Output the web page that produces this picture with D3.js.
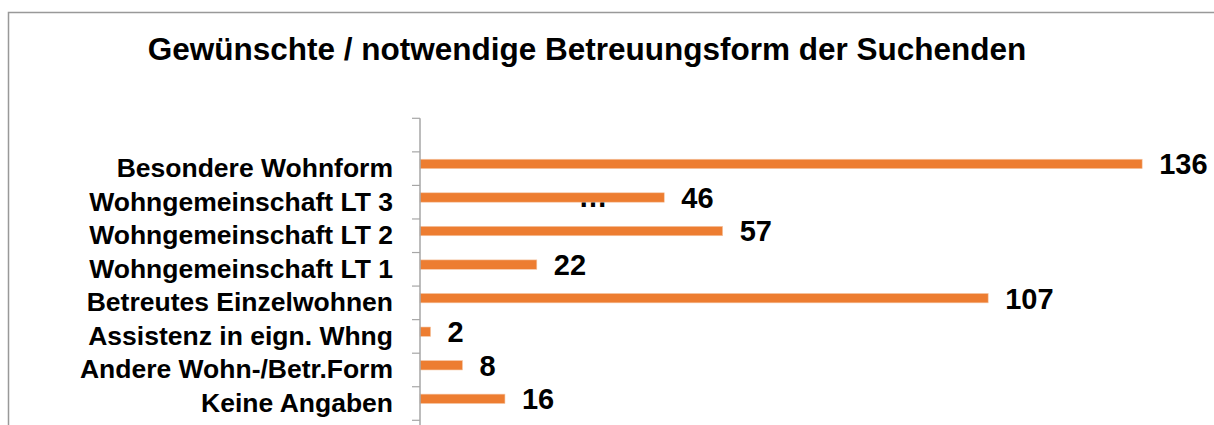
<!DOCTYPE html>
<html>
<head>
<meta charset="utf-8">
<script src="https://cdn.jsdelivr.net/npm/d3@7"></script>
<style>
  body { margin: 0; background: #fff; }
  svg { display: block; font-family: "Liberation Sans", Arial, sans-serif; }
</style>
</head>
<body>
<div id="chart"></div>
<script>
// Chart data
const title = 'Gewünschte / notwendige Betreuungsform der Suchenden';
const categories = [
  'Besondere Wohnform',
  'Wohngemeinschaft LT 3',
  'Wohngemeinschaft LT 2',
  'Wohngemeinschaft LT 1',
  'Betreutes Einzelwohnen',
  'Assistenz in eign. Whng',
  'Andere Wohn-/Betr.Form',
  'Keine Angaben'
];
const values = [136, 46, 57, 22, 107, 2, 8, 16];
const xDomain = [0, 150];

function drawChart() {
  const width = 1214;
  const height = 425;

  const svg = d3.select('#chart')
    .append('svg')
    .attr('width', width)
    .attr('height', height);

  // outer chart frame (right and bottom run off the picture)
  svg.append('rect')
    .attr('x', 8.5).attr('y', 12.5)
    .attr('width', width + 20).attr('height', height + 20)
    .attr('fill', 'none')
    .attr('stroke', '#999')
    .attr('stroke-width', 1.5);

  svg.append('text')
    .attr('x', 587)
    .attr('y', 60)
    .attr('text-anchor', 'middle')
    .attr('font-size', 31.5)
    .attr('font-weight', 'bold')
    .text(title);

  const plot = { left: 420, top: 118.3, bottom: 420.3 };

  const xScale = d3.scaleLinear()
    .domain(xDomain)
    .range([plot.left, plot.left + 150 * 5.31]);

  // an empty slot sits above the first category
  const yScale = d3.scaleBand()
    .domain([''].concat(categories))
    .range([plot.top, plot.bottom])
    .padding(0);

  const bw = yScale.bandwidth();
  const barH = 9.4;

  const rows = categories.map((c, i) => ({ cat: c, value: values[i] }));

  // bars
  svg.append('g')
    .selectAll('rect')
    .data(rows)
    .join('rect')
    .attr('x', xScale(0))
    .attr('y', d => yScale(d.cat) + bw / 2 - barH)
    .attr('width', d => xScale(d.value) - xScale(0))
    .attr('height', barH)
    .attr('fill', '#ED7D31')
    .attr('stroke', '#f6c9a8')
    .attr('stroke-width', 0.6);

  // category axis, ticks between categories
  const axis = d3.axisLeft(yScale)
    .tickSize(0)
    .tickPadding(27);

  const gAxis = svg.append('g')
    .attr('transform', `translate(${plot.left},0)`)
    .call(axis);

  gAxis.select('.domain').remove();
  gAxis.selectAll('text')
    .attr('font-size', 26.5)
    .attr('font-weight', 'bold')
    .attr('font-family', '"Liberation Sans", Arial, sans-serif')
    .attr('fill', '#000');

  const tickYs = yScale.domain().map(d => yScale(d)).concat([plot.bottom]);
  gAxis.selectAll('line.sep')
    .data(tickYs)
    .join('line')
    .attr('class', 'sep')
    .attr('x1', -8).attr('x2', 0)
    .attr('y1', d => d).attr('y2', d => d)
    .attr('stroke', '#a6a6a6')
    .attr('stroke-width', 1.2);

  gAxis.append('line')
    .attr('x1', 0).attr('x2', 0)
    .attr('y1', plot.top).attr('y2', plot.bottom + 6)
    .attr('stroke', '#a6a6a6')
    .attr('stroke-width', 1.5);

  // value labels
  svg.append('g')
    .selectAll('text')
    .data(rows)
    .join('text')
    .attr('x', d => xScale(d.value) + 17)
    .attr('y', d => yScale(d.cat) + bw / 2 - barH / 2)
    .attr('dy', '0.36em')
    .attr('font-size', 29)
    .attr('font-weight', 'bold')
    .text(d => d.value);

  // truncated label of the empty second series
  svg.append('text')
    .attr('x', 593)
    .attr('y', 207)
    .attr('text-anchor', 'middle')
    .attr('font-size', 29)
    .attr('font-weight', 'bold')
    .text('…');
}

drawChart();
</script>
</body>
</html>
